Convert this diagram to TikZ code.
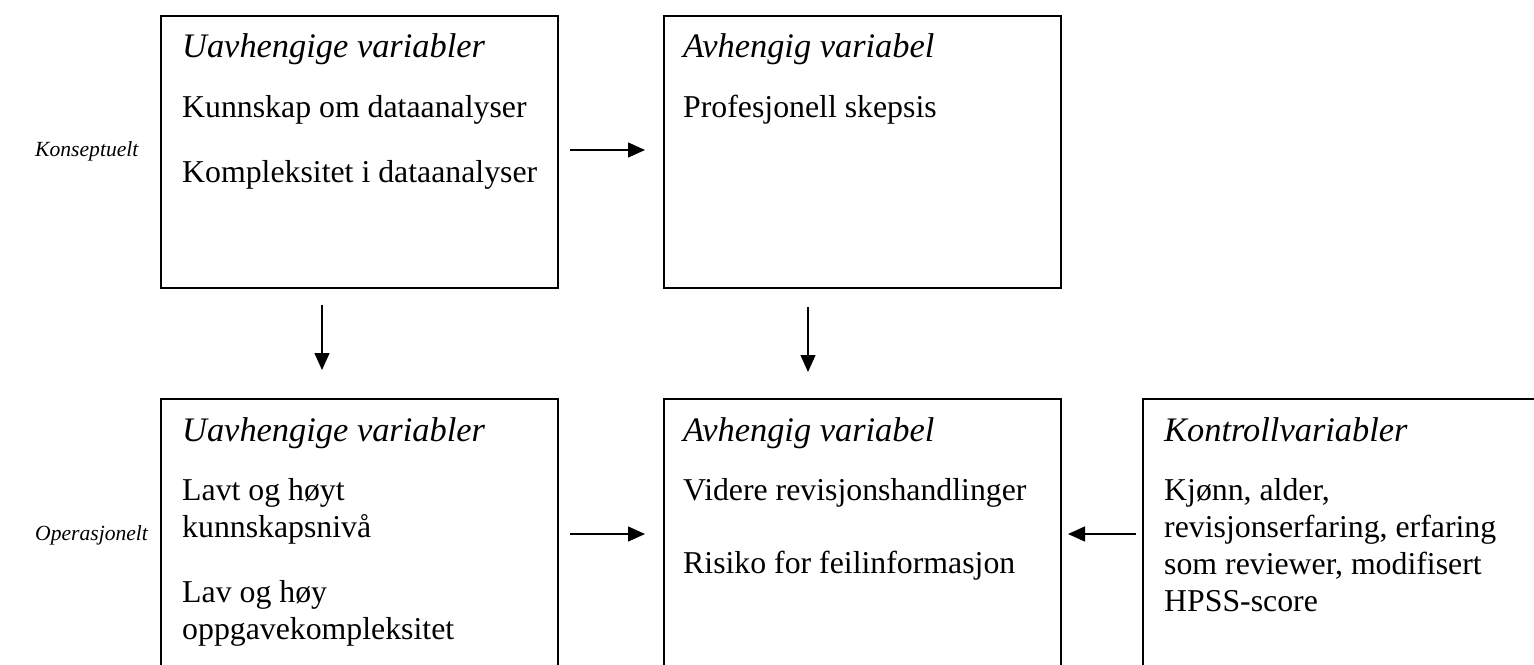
\documentclass[tikz,border=0pt]{standalone}
\usepackage{fontspec}
\setmainfont{Liberation Serif}
\usetikzlibrary{arrows.meta}
\tikzset{
  varbox/.style={draw=black, line width=2pt, anchor=north west, inner sep=0pt},
  head/.style={anchor=base west, inner sep=0pt, font=\fontsize{34.4}{40}\selectfont\itshape},
  item/.style={anchor=base west, inner sep=0pt, font=\fontsize{31.8}{37.3}\selectfont},
  side/.style={anchor=base west, inner sep=0pt, font=\fontsize{21.6}{25}\selectfont\itshape},
  conn/.style={line width=1.3pt, -{Triangle[length=17pt,width=15pt]}}
}
\begin{document}
\begin{tikzpicture}[x=1pt,y=-1pt]
\clip (0,0) rectangle (1534,664);
\fill[white] (0,0) rectangle (1534,664);

% boxes
\node[varbox, minimum width=397pt, minimum height=272pt] (b1) at (160,15) {};
\node[varbox, minimum width=397pt, minimum height=272pt] (b2) at (663,15) {};
\node[varbox, minimum width=397pt, minimum height=320pt] (b3) at (160,398) {};
\node[varbox, minimum width=397pt, minimum height=320pt] (b4) at (663,398) {};
\node[varbox, minimum width=450pt, minimum height=320pt] (b5) at (1142,398) {};

% side labels
\node[side] (konsept) at (35,156) {Konseptuelt};
\node[side] (operasj) at (35,540) {Operasjonelt};

% box 1
\node[head] (h1) at (182,57) {Uavhengige variabler};
\node[item] (t1a) at (182,117) {Kunnskap om dataanalyser};
\node[item] (t1b) at (182,182) {Kompleksitet i dataanalyser};

% box 2
\node[head] (h2) at (683,57) {Avhengig variabel};
\node[item] (t2a) at (683,117) {Profesjonell skepsis};

% box 3
\node[head] (h3) at (182,441) {Uavhengige variabler};
\node[item] (t3a) at (182,500) {Lavt og høyt};
\node[item] (t3b) at (182,537) {kunnskapsnivå};
\node[item] (t3c) at (182,602) {Lav og høy};
\node[item] (t3d) at (182,639) {oppgavekompleksitet};

% box 4
\node[head] (h4) at (683,441) {Avhengig variabel};
\node[item] (t4a) at (683,500) {Videre revisjonshandlinger};
\node[item] (t4b) at (683,573) {Risiko for feilinformasjon};

% box 5
\node[head] (h5) at (1164,441) {Kontrollvariabler};
\node[item] (t5a) at (1164,500) {Kjønn, alder,};
\node[item] (t5b) at (1164,537) {revisjonserfaring, erfaring};
\node[item] (t5c) at (1164,574) {som reviewer, modifisert};
\node[item] (t5d) at (1164,611) {HPSS-score};

% connector ends
\coordinate (a1s) at (570,150);
\coordinate (a1e) at (645,150);
\coordinate (a2s) at (570,534);
\coordinate (a2e) at (645,534);
\coordinate (a3s) at (1136,534);
\coordinate (a3e) at (1068,534);
\coordinate (a4s) at (322,305);
\coordinate (a4e) at (322,370);
\coordinate (a5s) at (808,307);
\coordinate (a5e) at (808,372);

\draw[conn] (a1s) -- (a1e);
\draw[conn] (a2s) -- (a2e);
\draw[conn] (a3s) -- (a3e);
\draw[conn] (a4s) -- (a4e);
\draw[conn] (a5s) -- (a5e);
\end{tikzpicture}
\end{document}
